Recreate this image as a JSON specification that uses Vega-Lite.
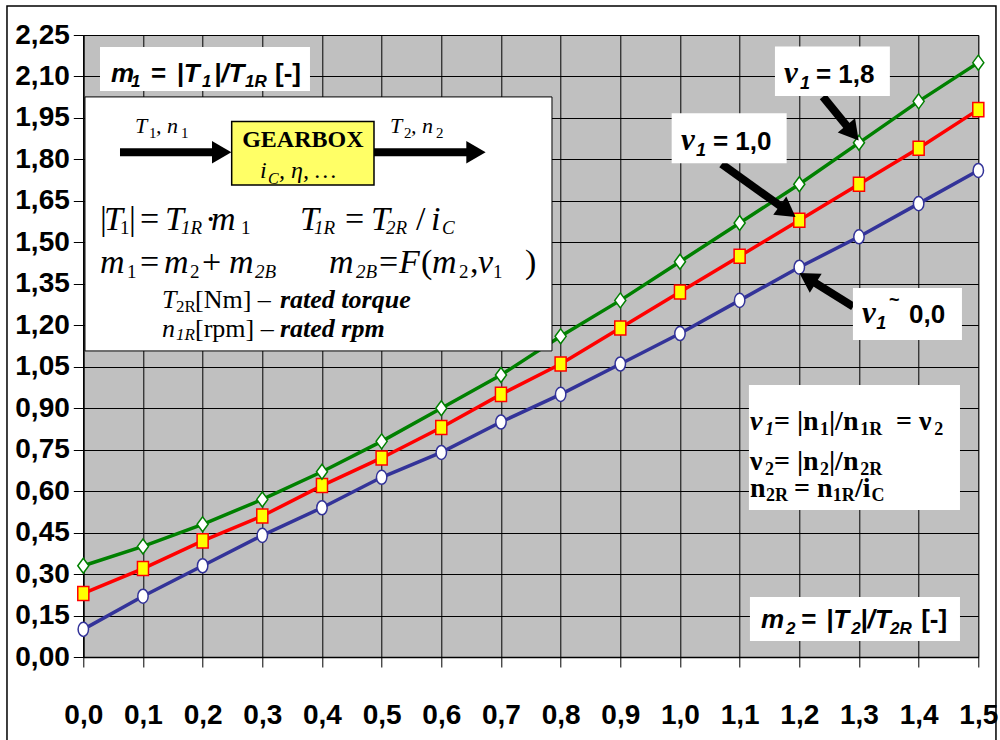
{
 "$schema": "https://vega.github.io/schema/vega-lite/v6.json",
 "width": 895, "height": 622,
 "autosize": {"type": "none"},
 "padding": {"left": 83.3, "top": 35, "right": 21.7, "bottom": 83},
 "datasets": {
  "curves": [
   {"x":0,"s":"ν1 ~ 0,0","y":0.10},{"x":0,"s":"ν1 = 1,0","y":0.23},{"x":0,"s":"ν1 = 1,8","y":0.33},
   {"x":0.1,"s":"ν1 ~ 0,0","y":0.22},{"x":0.1,"s":"ν1 = 1,0","y":0.32},{"x":0.1,"s":"ν1 = 1,8","y":0.40},
   {"x":0.2,"s":"ν1 ~ 0,0","y":0.33},{"x":0.2,"s":"ν1 = 1,0","y":0.42},{"x":0.2,"s":"ν1 = 1,8","y":0.48},
   {"x":0.3,"s":"ν1 ~ 0,0","y":0.44},{"x":0.3,"s":"ν1 = 1,0","y":0.51},{"x":0.3,"s":"ν1 = 1,8","y":0.57},
   {"x":0.4,"s":"ν1 ~ 0,0","y":0.54},{"x":0.4,"s":"ν1 = 1,0","y":0.62},{"x":0.4,"s":"ν1 = 1,8","y":0.67},
   {"x":0.5,"s":"ν1 ~ 0,0","y":0.65},{"x":0.5,"s":"ν1 = 1,0","y":0.72},{"x":0.5,"s":"ν1 = 1,8","y":0.78},
   {"x":0.6,"s":"ν1 ~ 0,0","y":0.74},{"x":0.6,"s":"ν1 = 1,0","y":0.83},{"x":0.6,"s":"ν1 = 1,8","y":0.90},
   {"x":0.7,"s":"ν1 ~ 0,0","y":0.85},{"x":0.7,"s":"ν1 = 1,0","y":0.95},{"x":0.7,"s":"ν1 = 1,8","y":1.02},
   {"x":0.8,"s":"ν1 ~ 0,0","y":0.95},{"x":0.8,"s":"ν1 = 1,0","y":1.06},{"x":0.8,"s":"ν1 = 1,8","y":1.16},
   {"x":0.9,"s":"ν1 ~ 0,0","y":1.06},{"x":0.9,"s":"ν1 = 1,0","y":1.19},{"x":0.9,"s":"ν1 = 1,8","y":1.29},
   {"x":1.0,"s":"ν1 ~ 0,0","y":1.17},{"x":1.0,"s":"ν1 = 1,0","y":1.32},{"x":1.0,"s":"ν1 = 1,8","y":1.43},
   {"x":1.1,"s":"ν1 ~ 0,0","y":1.29},{"x":1.1,"s":"ν1 = 1,0","y":1.45},{"x":1.1,"s":"ν1 = 1,8","y":1.57},
   {"x":1.2,"s":"ν1 ~ 0,0","y":1.41},{"x":1.2,"s":"ν1 = 1,0","y":1.58},{"x":1.2,"s":"ν1 = 1,8","y":1.71},
   {"x":1.3,"s":"ν1 ~ 0,0","y":1.52},{"x":1.3,"s":"ν1 = 1,0","y":1.71},{"x":1.3,"s":"ν1 = 1,8","y":1.86},
   {"x":1.4,"s":"ν1 ~ 0,0","y":1.64},{"x":1.4,"s":"ν1 = 1,0","y":1.84},{"x":1.4,"s":"ν1 = 1,8","y":2.01},
   {"x":1.5,"s":"ν1 ~ 0,0","y":1.76},{"x":1.5,"s":"ν1 = 1,0","y":1.98},{"x":1.5,"s":"ν1 = 1,8","y":2.15}
  ],
  "one": [{}]
 },
 "data": {"name": "one"},
 "config": {
  "view": {"fill": "#C0C0C0", "stroke": "#808080", "strokeWidth": 1},
  "text": {"align": "left", "baseline": "alphabetic", "color": "#000000"},
  "style": {
   "ai": {"font": "Liberation Sans", "fontSize": 26, "fontWeight": "bold", "fontStyle": "italic"},
   "ab": {"font": "Liberation Sans", "fontSize": 26, "fontWeight": "bold", "fontStyle": "normal"},
   "ais": {"font": "Liberation Sans", "fontSize": 17, "fontWeight": "bold", "fontStyle": "italic"},
   "nu": {"font": "Liberation Serif", "fontSize": 31, "fontWeight": "bold", "fontStyle": "italic"},
   "nus": {"font": "Liberation Sans", "fontSize": 18, "fontWeight": "bold", "fontStyle": "italic"},
   "tl": {"font": "Liberation Sans", "fontSize": 18, "fontWeight": "bold", "fontStyle": "normal"},
   "gi": {"font": "Liberation Serif", "fontSize": 22, "fontStyle": "italic"},
   "gs": {"font": "Liberation Serif", "fontSize": 15, "fontStyle": "normal"},
   "gb": {"font": "Liberation Serif", "fontSize": 24, "fontWeight": "bold"},
   "gi24": {"font": "Liberation Serif", "fontSize": 24, "fontStyle": "italic"},
   "gs16": {"font": "Liberation Serif", "fontSize": 16, "fontStyle": "italic"},
   "ei": {"font": "Liberation Serif", "fontSize": 34, "fontStyle": "italic"},
   "er": {"font": "Liberation Serif", "fontSize": 34, "fontStyle": "normal"},
   "es": {"font": "Liberation Serif", "fontSize": 19, "fontStyle": "italic"},
   "esr": {"font": "Liberation Serif", "fontSize": 19, "fontStyle": "normal"},
   "t26i": {"font": "Liberation Serif", "fontSize": 26, "fontStyle": "italic"},
   "t26": {"font": "Liberation Serif", "fontSize": 26, "fontStyle": "normal"},
   "t26bi": {"font": "Liberation Serif", "fontSize": 26, "fontWeight": "bold", "fontStyle": "italic"},
   "t17": {"font": "Liberation Serif", "fontSize": 17, "fontStyle": "normal"},
   "t17i": {"font": "Liberation Serif", "fontSize": 17, "fontStyle": "italic"},
   "rb": {"font": "Liberation Serif", "fontSize": 28, "fontWeight": "bold", "fontStyle": "normal"},
   "rbi": {"font": "Liberation Serif", "fontSize": 28, "fontWeight": "bold", "fontStyle": "italic"},
   "rbs": {"font": "Liberation Serif", "fontSize": 18, "fontWeight": "bold", "fontStyle": "normal"},
   "rbsi": {"font": "Liberation Serif", "fontSize": 18, "fontWeight": "bold", "fontStyle": "italic"}
  }
 },
 "layer": [
  {"data": {"name": "curves"}, "mark": {"type": "line", "strokeWidth": 3.5},
   "encoding": {
    "x": {"field": "x", "type": "quantitative", "scale": {"domain": [0, 1.5], "nice": false, "zero": false},
     "axis": {"values": [0,0.1,0.2,0.3,0.4,0.5,0.6,0.7,0.8,0.9,1,1.1,1.2,1.3,1.4,1.5], "labelExpr": "replace(format(datum.value,'.1f'),'.',',')", "title": null, "grid": true, "gridColor": "#000000", "gridWidth": 1, "gridOpacity": 1, "tickSize": 10, "tickColor": "#000000", "tickWidth": 1, "domainColor": "#000000", "domainWidth": 1.5, "labelFont": "Liberation Sans", "labelFontSize": 28, "labelFontWeight": "bold", "labelColor": "#000000", "labelPadding": 34, "labelFlush": false, "labelOverlap": false, "labelBound": false}},
    "y": {"field": "y", "type": "quantitative", "scale": {"domain": [0, 2.25], "nice": false, "zero": false},
     "axis": {"values": [0,0.15,0.3,0.45,0.6,0.75,0.9,1.05,1.2,1.35,1.5,1.65,1.8,1.95,2.1,2.25], "labelExpr": "replace(format(datum.value,'.2f'),'.',',')", "title": null, "grid": true, "gridColor": "#000000", "gridWidth": 1, "gridOpacity": 1, "tickSize": 10, "tickColor": "#000000", "tickWidth": 1, "domainColor": "#000000", "domainWidth": 1.5, "labelFont": "Liberation Sans", "labelFontSize": 28, "labelFontWeight": "bold", "labelColor": "#000000", "labelPadding": 4, "labelOverlap": false, "labelBound": false, "labelFlush": false}},
    "color": {"field": "s", "type": "nominal", "scale": {"domain": ["ν1 ~ 0,0", "ν1 = 1,0", "ν1 = 1,8"], "range": ["#333399", "#FF0000", "#008000"]}, "legend": null}
   }},
  {"data": {"name": "curves"}, "mark": {"type": "point", "filled": true, "size": 169, "strokeWidth": 1.5, "opacity": 1, "fillOpacity": 1},
   "encoding": {
    "x": {"field": "x", "type": "quantitative"},
    "y": {"field": "y", "type": "quantitative"},
    "shape": {"field": "s", "type": "nominal", "scale": {"domain": ["ν1 ~ 0,0", "ν1 = 1,0", "ν1 = 1,8"], "range": ["M0,-1.08A0.8,1.08,0,1,1,0,1.08A0.8,1.08,0,1,1,0,-1.08Z", "M-0.85,-1.08L0.85,-1.08L0.85,1.08L-0.85,1.08Z", "M0,-1.15L0.85,0L0,1.15L-0.85,0Z"]}, "legend": null},
    "fill": {"field": "s", "type": "nominal", "scale": {"domain": ["ν1 ~ 0,0", "ν1 = 1,0", "ν1 = 1,8"], "range": ["#FFFFFF", "#FFFF00", "#FFFFFF"]}, "legend": null},
    "stroke": {"field": "s", "type": "nominal", "scale": {"domain": ["ν1 ~ 0,0", "ν1 = 1,0", "ν1 = 1,8"], "range": ["#333399", "#FF0000", "#008000"]}, "legend": null}
   }},

  {"mark": {"type": "rect", "filled": false, "stroke": "#000000", "strokeWidth": 1.5}, "encoding": {"x": {"datum": -0.1279}, "x2": {"datum": 1.5296}, "y": {"datum": 2.3553}, "y2": {"datum": -0.3184}}},

  {"mark": {"type": "rule", "color": "#000000", "strokeWidth": 8, "strokeCap": "butt"}, "encoding": {"x": {"datum": 1.2396}, "y": {"datum": 2.0271}, "x2": {"datum": 1.2892}, "y2": {"datum": 1.8958}}},
  {"mark": {"type": "rule", "color": "#000000", "strokeWidth": 8, "strokeCap": "butt"}, "encoding": {"x": {"datum": 1.0699}, "y": {"datum": 1.7836}, "x2": {"datum": 1.1805}, "y2": {"datum": 1.6122}}},
  {"mark": {"type": "rule", "color": "#000000", "strokeWidth": 8, "strokeCap": "butt"}, "encoding": {"x": {"datum": 1.2904}, "y": {"datum": 1.2674}, "x2": {"datum": 1.2138}, "y2": {"datum": 1.3708}}},
  {"mark": {"type": "point", "shape": "triangle-up", "filled": true, "color": "#000000", "opacity": 1, "size": 500, "angle": 140.8}, "encoding": {"x": {"datum": 1.2892}, "y": {"datum": 1.8958}}},
  {"mark": {"type": "point", "shape": "triangle-up", "filled": true, "color": "#000000", "opacity": 1, "size": 500, "angle": 125.7}, "encoding": {"x": {"datum": 1.1805}, "y": {"datum": 1.6122}}},
  {"mark": {"type": "point", "shape": "triangle-up", "filled": true, "color": "#000000", "opacity": 1, "size": 500, "angle": 302.1}, "encoding": {"x": {"datum": 1.2138}, "y": {"datum": 1.3708}}},

  {"mark": {"type": "rect", "fill": "#FFFFFF"}, "encoding": {"x": {"datum": 0.0280}, "x2": {"datum": 0.3799}, "y": {"datum": 2.2070}, "y2": {"datum": 2.0478}}},
  {"mark": {"type": "rect", "fill": "#FFFFFF", "stroke": "#000000", "strokeWidth": 1}, "encoding": {"x": {"datum": 0.0028}, "x2": {"datum": 0.7855}, "y": {"datum": 2.0260}, "y2": {"datum": 1.1071}}},
  {"mark": {"type": "rect", "fill": "#FFFFFF"}, "encoding": {"x": {"datum": 1.1156}, "x2": {"datum": 1.4693}, "y": {"datum": 0.9841}, "y2": {"datum": 0.5318}}},
  {"mark": {"type": "rect", "fill": "#FFFFFF"}, "encoding": {"x": {"datum": 1.1173}, "x2": {"datum": 1.4693}, "y": {"datum": 0.2171}, "y2": {"datum": 0.0579}}},
  {"mark": {"type": "rect", "fill": "#FFFFFF"}, "encoding": {"x": {"datum": 1.1592}, "x2": {"datum": 1.3518}, "y": {"datum": 2.2081}, "y2": {"datum": 2.0297}}},
  {"mark": {"type": "rect", "fill": "#FFFFFF"}, "encoding": {"x": {"datum": 0.9861}, "x2": {"datum": 1.1788}, "y": {"datum": 1.9671}, "y2": {"datum": 1.7862}}},
  {"mark": {"type": "rect", "fill": "#FFFFFF"}, "encoding": {"x": {"datum": 1.2899}, "x2": {"datum": 1.4726}, "y": {"datum": 1.3350}, "y2": {"datum": 1.1469}}},

  {"mark": {"type": "rule", "color": "#000000", "strokeWidth": 8, "strokeCap": "butt"}, "encoding": {"x": {"datum": 0.0615}, "x2": {"datum": 0.2190}, "y": {"datum": 1.8260}}},
  {"mark": {"type": "rule", "color": "#000000", "strokeWidth": 8, "strokeCap": "butt"}, "encoding": {"x": {"datum": 0.4872}, "x2": {"datum": 0.6447}, "y": {"datum": 1.8260}}},
  {"mark": {"type": "point", "shape": "triangle-right", "filled": true, "color": "#000000", "opacity": 1, "size": 500}, "encoding": {"x": {"datum": 0.2319}, "y": {"datum": 1.8260}}},
  {"mark": {"type": "point", "shape": "triangle-right", "filled": true, "color": "#000000", "opacity": 1, "size": 500}, "encoding": {"x": {"datum": 0.6581}, "y": {"datum": 1.8260}}},
  {"mark": {"type": "rect", "fill": "#FFFF66", "stroke": "#000000", "strokeWidth": 1.5}, "encoding": {"x": {"datum": 0.2487}, "x2": {"datum": 0.4872}, "y": {"datum": 1.9367}, "y2": {"datum": 1.7077}}},

  {"mark": {"type": "text", "style": "ai", "text": "m"}, "encoding": {"x": {"datum": 0.0464}, "y": {"datum": 2.0803}}},
  {"mark": {"type": "text", "style": "ais", "text": "1"}, "encoding": {"x": {"datum": 0.0799}, "y": {"datum": 2.0622}}},
  {"mark": {"type": "text", "style": "ab", "text": "="}, "encoding": {"x": {"datum": 0.1135}, "y": {"datum": 2.0803}}},
  {"mark": {"type": "text", "style": "ai", "text": "|T"}, "encoding": {"x": {"datum": 0.1562}, "y": {"datum": 2.0803}}},
  {"mark": {"type": "text", "style": "ais", "text": "1"}, "encoding": {"x": {"datum": 0.1989}, "y": {"datum": 2.0622}}},
  {"mark": {"type": "text", "style": "ai", "text": "|/T"}, "encoding": {"x": {"datum": 0.2190}, "y": {"datum": 2.0803}}},
  {"mark": {"type": "text", "style": "ais", "text": "1R"}, "encoding": {"x": {"datum": 0.2710}, "y": {"datum": 2.0622}}},
  {"mark": {"type": "text", "style": "ab", "text": "[-]"}, "encoding": {"x": {"datum": 0.3213}, "y": {"datum": 2.0803}}},

  {"mark": {"type": "text", "style": "gi", "text": "T"}, "encoding": {"x": {"datum": 0.0866}, "y": {"datum": 1.8947}}},
  {"mark": {"type": "text", "style": "gs", "text": "1"}, "encoding": {"x": {"datum": 0.1101}, "y": {"datum": 1.8777}}},
  {"mark": {"type": "text", "style": "gi", "text": ", n"}, "encoding": {"x": {"datum": 0.1218}, "y": {"datum": 1.8947}}},
  {"mark": {"type": "text", "style": "gs", "text": "1"}, "encoding": {"x": {"datum": 0.1637}, "y": {"datum": 1.8777}}},
  {"mark": {"type": "text", "style": "gi", "text": "T"}, "encoding": {"x": {"datum": 0.5140}, "y": {"datum": 1.8947}}},
  {"mark": {"type": "text", "style": "gs", "text": "2"}, "encoding": {"x": {"datum": 0.5375}, "y": {"datum": 1.8777}}},
  {"mark": {"type": "text", "style": "gi", "text": ", n"}, "encoding": {"x": {"datum": 0.5492}, "y": {"datum": 1.8947}}},
  {"mark": {"type": "text", "style": "gs", "text": "2"}, "encoding": {"x": {"datum": 0.5911}, "y": {"datum": 1.8777}}},
  {"mark": {"type": "text", "style": "gb", "text": "GEARBOX", "align": "center"}, "encoding": {"x": {"datum": 0.3679}, "y": {"datum": 1.8463}}},
  {"mark": {"type": "text", "style": "gi24", "text": "i"}, "encoding": {"x": {"datum": 0.2961}, "y": {"datum": 1.7319}}},
  {"mark": {"type": "text", "style": "gs16", "text": "C"}, "encoding": {"x": {"datum": 0.3095}, "y": {"datum": 1.7113}}},
  {"mark": {"type": "text", "style": "gi24", "text": ", η, …"}, "encoding": {"x": {"datum": 0.3280}, "y": {"datum": 1.7319}}},

  {"mark": {"type": "text", "style": "er", "text": "|"}, "encoding": {"x": {"datum": 0.0280}, "y": {"datum": 1.5449}}},
  {"mark": {"type": "text", "style": "ei", "text": "T"}, "encoding": {"x": {"datum": 0.0347}, "y": {"datum": 1.5449}}},
  {"mark": {"type": "text", "style": "esr", "text": "1"}, "encoding": {"x": {"datum": 0.0615}, "y": {"datum": 1.5304}}},
  {"mark": {"type": "text", "style": "er", "text": "|"}, "encoding": {"x": {"datum": 0.0766}, "y": {"datum": 1.5449}}},
  {"mark": {"type": "text", "style": "er", "text": "="}, "encoding": {"x": {"datum": 0.0950}, "y": {"datum": 1.5449}}},
  {"mark": {"type": "text", "style": "ei", "text": "T"}, "encoding": {"x": {"datum": 0.1369}, "y": {"datum": 1.5449}}},
  {"mark": {"type": "text", "style": "es", "text": "1R"}, "encoding": {"x": {"datum": 0.1637}, "y": {"datum": 1.5304}}},
  {"mark": {"type": "text", "style": "er", "text": "·"}, "encoding": {"x": {"datum": 0.2040}, "y": {"datum": 1.5449}}},
  {"mark": {"type": "text", "style": "ei", "text": "m"}, "encoding": {"x": {"datum": 0.2140}, "y": {"datum": 1.5449}}},
  {"mark": {"type": "text", "style": "esr", "text": "1"}, "encoding": {"x": {"datum": 0.2643}, "y": {"datum": 1.5304}}},
  {"mark": {"type": "text", "style": "ei", "text": "T"}, "encoding": {"x": {"datum": 0.3632}, "y": {"datum": 1.5449}}},
  {"mark": {"type": "text", "style": "es", "text": "1R"}, "encoding": {"x": {"datum": 0.3866}, "y": {"datum": 1.5304}}},
  {"mark": {"type": "text", "style": "er", "text": "="}, "encoding": {"x": {"datum": 0.4386}, "y": {"datum": 1.5449}}},
  {"mark": {"type": "text", "style": "ei", "text": "T"}, "encoding": {"x": {"datum": 0.4822}, "y": {"datum": 1.5449}}},
  {"mark": {"type": "text", "style": "es", "text": "2R"}, "encoding": {"x": {"datum": 0.5073}, "y": {"datum": 1.5304}}},
  {"mark": {"type": "text", "style": "er", "text": "/"}, "encoding": {"x": {"datum": 0.5576}, "y": {"datum": 1.5449}}},
  {"mark": {"type": "text", "style": "ei", "text": "i"}, "encoding": {"x": {"datum": 0.5827}, "y": {"datum": 1.5449}}},
  {"mark": {"type": "text", "style": "es", "text": "C"}, "encoding": {"x": {"datum": 0.6011}, "y": {"datum": 1.5304}}},

  {"mark": {"type": "text", "style": "ei", "text": "m"}, "encoding": {"x": {"datum": 0.0280}, "y": {"datum": 1.3882}}},
  {"mark": {"type": "text", "style": "esr", "text": "1"}, "encoding": {"x": {"datum": 0.0732}, "y": {"datum": 1.3712}}},
  {"mark": {"type": "text", "style": "er", "text": "="}, "encoding": {"x": {"datum": 0.0950}, "y": {"datum": 1.3882}}},
  {"mark": {"type": "text", "style": "ei", "text": "m"}, "encoding": {"x": {"datum": 0.1352}, "y": {"datum": 1.3882}}},
  {"mark": {"type": "text", "style": "esr", "text": "2"}, "encoding": {"x": {"datum": 0.1788}, "y": {"datum": 1.3712}}},
  {"mark": {"type": "text", "style": "er", "text": "+"}, "encoding": {"x": {"datum": 0.1989}, "y": {"datum": 1.3882}}},
  {"mark": {"type": "text", "style": "ei", "text": "m"}, "encoding": {"x": {"datum": 0.2442}, "y": {"datum": 1.3882}}},
  {"mark": {"type": "text", "style": "es", "text": "2B"}, "encoding": {"x": {"datum": 0.2877}, "y": {"datum": 1.3712}}},
  {"mark": {"type": "text", "style": "ei", "text": "m"}, "encoding": {"x": {"datum": 0.4118}, "y": {"datum": 1.3882}}},
  {"mark": {"type": "text", "style": "es", "text": "2B"}, "encoding": {"x": {"datum": 0.4570}, "y": {"datum": 1.3712}}},
  {"mark": {"type": "text", "style": "er", "text": "="}, "encoding": {"x": {"datum": 0.4956}, "y": {"datum": 1.3882}}},
  {"mark": {"type": "text", "style": "ei", "text": "F"}, "encoding": {"x": {"datum": 0.5291}, "y": {"datum": 1.3882}}},
  {"mark": {"type": "text", "style": "er", "text": "("}, "encoding": {"x": {"datum": 0.5659}, "y": {"datum": 1.3882}}},
  {"mark": {"type": "text", "style": "ei", "text": "m"}, "encoding": {"x": {"datum": 0.5844}, "y": {"datum": 1.3882}}},
  {"mark": {"type": "text", "style": "esr", "text": "2"}, "encoding": {"x": {"datum": 0.6296}, "y": {"datum": 1.3712}}},
  {"mark": {"type": "text", "style": "er", "text": ","}, "encoding": {"x": {"datum": 0.6481}, "y": {"datum": 1.3882}}},
  {"mark": {"type": "text", "style": "ei", "text": "ν"}, "encoding": {"x": {"datum": 0.6615}, "y": {"datum": 1.3882}}},
  {"mark": {"type": "text", "style": "esr", "text": "1"}, "encoding": {"x": {"datum": 0.6866}, "y": {"datum": 1.3712}}},
  {"mark": {"type": "text", "style": "er", "text": ")"}, "encoding": {"x": {"datum": 0.7402}, "y": {"datum": 1.3882}}},

  {"mark": {"type": "text", "style": "t26i", "text": "T"}, "encoding": {"x": {"datum": 0.1319}, "y": {"datum": 1.2616}}},
  {"mark": {"type": "text", "style": "t17", "text": "2R"}, "encoding": {"x": {"datum": 0.1554}, "y": {"datum": 1.2482}}},
  {"mark": {"type": "text", "style": "t26", "text": "[Nm] –"}, "encoding": {"x": {"datum": 0.1872}, "y": {"datum": 1.2616}}},
  {"mark": {"type": "text", "style": "t26bi", "text": "rated  torque"}, "encoding": {"x": {"datum": 0.3296}, "y": {"datum": 1.2616}}},
  {"mark": {"type": "text", "style": "t26i", "text": "n"}, "encoding": {"x": {"datum": 0.1319}, "y": {"datum": 1.1588}}},
  {"mark": {"type": "text", "style": "t17i", "text": "1R"}, "encoding": {"x": {"datum": 0.1554}, "y": {"datum": 1.1469}}},
  {"mark": {"type": "text", "style": "t26", "text": "[rpm] –"}, "encoding": {"x": {"datum": 0.1872}, "y": {"datum": 1.1588}}},
  {"mark": {"type": "text", "style": "t26bi", "text": "rated rpm"}, "encoding": {"x": {"datum": 0.3296}, "y": {"datum": 1.1588}}},

  {"mark": {"type": "text", "style": "rbi", "text": "ν"}, "encoding": {"x": {"datum": 1.1173}, "y": {"datum": 0.8213}}},
  {"mark": {"type": "text", "style": "rbsi", "text": "1"}, "encoding": {"x": {"datum": 1.1424}, "y": {"datum": 0.8032}}},
  {"mark": {"type": "text", "style": "rb", "text": "= |n"}, "encoding": {"x": {"datum": 1.1575}, "y": {"datum": 0.8213}}},
  {"mark": {"type": "text", "style": "rbs", "text": "1"}, "encoding": {"x": {"datum": 1.2346}, "y": {"datum": 0.8032}}},
  {"mark": {"type": "text", "style": "rb", "text": "|/n"}, "encoding": {"x": {"datum": 1.2497}, "y": {"datum": 0.8213}}},
  {"mark": {"type": "text", "style": "rbs", "text": "1R"}, "encoding": {"x": {"datum": 1.3020}, "y": {"datum": 0.8032}}},
  {"mark": {"type": "text", "style": "rb", "text": "= ν"}, "encoding": {"x": {"datum": 1.3620}, "y": {"datum": 0.8213}}},
  {"mark": {"type": "text", "style": "rbs", "text": "2"}, "encoding": {"x": {"datum": 1.4260}, "y": {"datum": 0.8032}}},
  {"mark": {"type": "text", "style": "rb", "text": "ν"}, "encoding": {"x": {"datum": 1.1173}, "y": {"datum": 0.6766}}},
  {"mark": {"type": "text", "style": "rbs", "text": "2"}, "encoding": {"x": {"datum": 1.1424}, "y": {"datum": 0.6585}}},
  {"mark": {"type": "text", "style": "rb", "text": "= |n"}, "encoding": {"x": {"datum": 1.1575}, "y": {"datum": 0.6766}}},
  {"mark": {"type": "text", "style": "rbs", "text": "2"}, "encoding": {"x": {"datum": 1.2346}, "y": {"datum": 0.6585}}},
  {"mark": {"type": "text", "style": "rb", "text": "|/n"}, "encoding": {"x": {"datum": 1.2497}, "y": {"datum": 0.6766}}},
  {"mark": {"type": "text", "style": "rbs", "text": "2R"}, "encoding": {"x": {"datum": 1.3020}, "y": {"datum": 0.6585}}},
  {"mark": {"type": "text", "style": "rb", "text": "n"}, "encoding": {"x": {"datum": 1.1173}, "y": {"datum": 0.5800}}},
  {"mark": {"type": "text", "style": "rbs", "text": "2R"}, "encoding": {"x": {"datum": 1.1441}, "y": {"datum": 0.5644}}},
  {"mark": {"type": "text", "style": "rb", "text": "= n"}, "encoding": {"x": {"datum": 1.1911}, "y": {"datum": 0.5800}}},
  {"mark": {"type": "text", "style": "rbs", "text": "1R"}, "encoding": {"x": {"datum": 1.2560}, "y": {"datum": 0.5644}}},
  {"mark": {"type": "text", "style": "rb", "text": "/i"}, "encoding": {"x": {"datum": 1.2935}, "y": {"datum": 0.5800}}},
  {"mark": {"type": "text", "style": "rbs", "text": "C"}, "encoding": {"x": {"datum": 1.3210}, "y": {"datum": 0.5644}}},

  {"mark": {"type": "text", "style": "ai", "text": "m"}, "encoding": {"x": {"datum": 1.1358}, "y": {"datum": 0.1038}}},
  {"mark": {"type": "text", "style": "ais", "text": "2"}, "encoding": {"x": {"datum": 1.1776}, "y": {"datum": 0.0832}}},
  {"mark": {"type": "text", "style": "ab", "text": "="}, "encoding": {"x": {"datum": 1.2032}, "y": {"datum": 0.1038}}},
  {"mark": {"type": "text", "style": "ai", "text": "|T"}, "encoding": {"x": {"datum": 1.2447}, "y": {"datum": 0.1038}}},
  {"mark": {"type": "text", "style": "ais", "text": "2"}, "encoding": {"x": {"datum": 1.2870}, "y": {"datum": 0.0832}}},
  {"mark": {"type": "text", "style": "ai", "text": "|/T"}, "encoding": {"x": {"datum": 1.3020}, "y": {"datum": 0.1038}}},
  {"mark": {"type": "text", "style": "ais", "text": "2R"}, "encoding": {"x": {"datum": 1.3520}, "y": {"datum": 0.0832}}},
  {"mark": {"type": "text", "style": "ab", "text": "[-]"}, "encoding": {"x": {"datum": 1.4043}, "y": {"datum": 0.1038}}},

  {"mark": {"type": "text", "style": "nu", "text": "ν"}, "encoding": {"x": {"datum": 1.1743}, "y": {"datum": 2.0756}}},
  {"mark": {"type": "text", "style": "nus", "text": "1"}, "encoding": {"x": {"datum": 1.2011}, "y": {"datum": 2.0550}}},
  {"mark": {"type": "text", "style": "ab", "text": "= 1,8"}, "encoding": {"x": {"datum": 1.2279}, "y": {"datum": 2.0756}}},
  {"mark": {"type": "text", "style": "nu", "text": "ν"}, "encoding": {"x": {"datum": 1.0017}, "y": {"datum": 1.8343}}},
  {"mark": {"type": "text", "style": "nus", "text": "1"}, "encoding": {"x": {"datum": 1.0268}, "y": {"datum": 1.8126}}},
  {"mark": {"type": "text", "style": "ab", "text": "= 1,0"}, "encoding": {"x": {"datum": 1.0553}, "y": {"datum": 1.8343}}},
  {"mark": {"type": "text", "style": "nu", "text": "ν"}, "encoding": {"x": {"datum": 1.3050}, "y": {"datum": 1.2073}}},
  {"mark": {"type": "text", "style": "nus", "text": "1"}, "encoding": {"x": {"datum": 1.3289}, "y": {"datum": 1.1867}}},
  {"mark": {"type": "text", "style": "tl", "text": "~"}, "encoding": {"x": {"datum": 1.3503}, "y": {"datum": 1.2699}}},
  {"mark": {"type": "text", "style": "ab", "text": "0,0"}, "encoding": {"x": {"datum": 1.3838}, "y": {"datum": 1.2073}}}
 ]
}
